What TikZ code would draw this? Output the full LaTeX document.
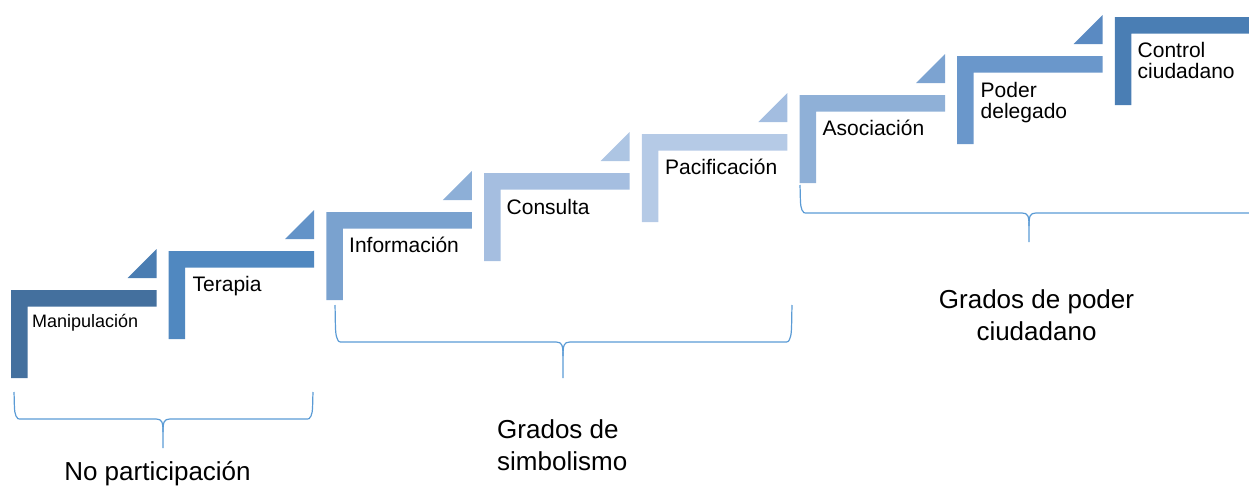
\documentclass[tikz,border=0pt]{standalone}
\usepackage{fontspec}
\setmainfont{Liberation Sans}
\definecolor{sA}{HTML}{44709E}
\definecolor{sB}{HTML}{5088C0}
\definecolor{sC}{HTML}{7AA2CF}
\definecolor{sD}{HTML}{A5BEE0}
\definecolor{sE}{HTML}{B5CAE6}
\definecolor{sF}{HTML}{8FB0D7}
\definecolor{sG}{HTML}{6A97CB}
\definecolor{sH}{HTML}{4A7EB4}
\definecolor{tA}{HTML}{4A7DB2}
\definecolor{tB}{HTML}{6393C8}
\definecolor{tC}{HTML}{8DAFD7}
\definecolor{tD}{HTML}{ADC5E3}
\definecolor{tE}{HTML}{A3BDE0}
\definecolor{tF}{HTML}{7CA3D1}
\definecolor{tG}{HTML}{5A8AC2}
\definecolor{braceblue}{HTML}{5B9BD5}
\begin{document}
\begin{tikzpicture}[x=1pt,y=-1pt,
  steptext/.style={anchor=base west, inner sep=0pt, align=left, font=\fontsize{21}{21.2}\selectfont},
  biglabel/.style={inner sep=0pt, font=\fontsize{26}{31.7}\selectfont},
  bracestyle/.style={draw=braceblue, line width=1.2pt, line join=round}]
\useasboundingbox (0,0) rectangle (1249,485);
\clip (0,0) rectangle (1249,485);
% steps
\foreach \i/\c in {0/sA,1/sB,2/sC,3/sD,4/sE,5/sF,6/sG,7/sH}{
  \pgfmathsetmacro{\X}{11+157.7*\i}
  \pgfmathsetmacro{\Y}{290-39*\i}
  \fill[\c] (\X,\Y) -- ++(145.5,0) -- ++(0,16.5) -- (\X+16.5,\Y+16.5) -- (\X+16.5,\Y+88) -- (\X,\Y+88) -- cycle;
}
% triangles
\foreach \i/\c in {0/tA,1/tB,2/tC,3/tD,4/tE,5/tF,6/tG}{
  \pgfmathsetmacro{\X}{11+157.7*\i+145.5}
  \pgfmathsetmacro{\Y}{290-39*\i}
  \fill[\c] (\X-29,\Y-12) -- (\X,\Y-12) -- (\X,\Y-41) -- cycle;
}
% step labels (base = baseline of the last line)
\node[steptext, font=\fontsize{18}{18}\selectfont] (manip) at (32,327) {Manipulación};
\node[steptext] (terapia) at (192.5,291.5) {Terapia};
\node[steptext] (info) at (349,252.3) {Información};
\node[steptext] (consulta) at (506.5,214) {Consulta};
\node[steptext] (pacif) at (665,174) {Pacificación};
\node[steptext] (asoc) at (822.5,135) {Asociación};
\node[steptext] (poder) at (980.5,118.3) {Poder\\delegado};
\node[steptext] (control) at (1137.5,78.6) {Control\\ciudadano};
% braces
\draw[bracestyle] (14,392) .. controls (14.5,404) and (14,412) .. (16,416) .. controls (17.5,419) .. (22,419)
  -- (156,419) .. controls (162,419) and (163,422) .. (163,432) -- (163,448);
\draw[bracestyle] (313,392) .. controls (312.5,404) and (313,412) .. (311,416) .. controls (309.5,419) .. (305,419)
  -- (170,419) .. controls (164,419) and (163,422) .. (163,432);
\draw[bracestyle] (335,305) .. controls (335.5,322) and (335,334) .. (337,338) .. controls (338.5,342) .. (343,342)
  -- (556,342) .. controls (562,342) and (563,345) .. (563,356) -- (563,378);
\draw[bracestyle] (792,305) .. controls (791.5,322) and (792,334) .. (790,338) .. controls (788.5,342) .. (784,342)
  -- (570,342) .. controls (564,342) and (563,345) .. (563,356);
\draw[bracestyle] (800,185) .. controls (800.5,198) and (800,206) .. (802,210) .. controls (803.5,213) .. (808,213)
  -- (1022,213) .. controls (1028,213) and (1029,216) .. (1029,226) -- (1029,242);
\draw[bracestyle] (1258,185) .. controls (1257.5,198) and (1258,206) .. (1256,210) .. controls (1254.5,213) .. (1250,213)
  -- (1036,213) .. controls (1030,213) and (1029,216) .. (1029,226);
% group labels
\node[biglabel, anchor=base] (nopart) at (157.5,480) {No participación};
\node[biglabel, anchor=base west, align=left] (simb) at (497,470) {Grados de\\simbolismo};
\node[biglabel, anchor=base, align=center] (poderc) at (1036.5,340) {Grados de poder\\ciudadano};
\end{tikzpicture}
\end{document}
